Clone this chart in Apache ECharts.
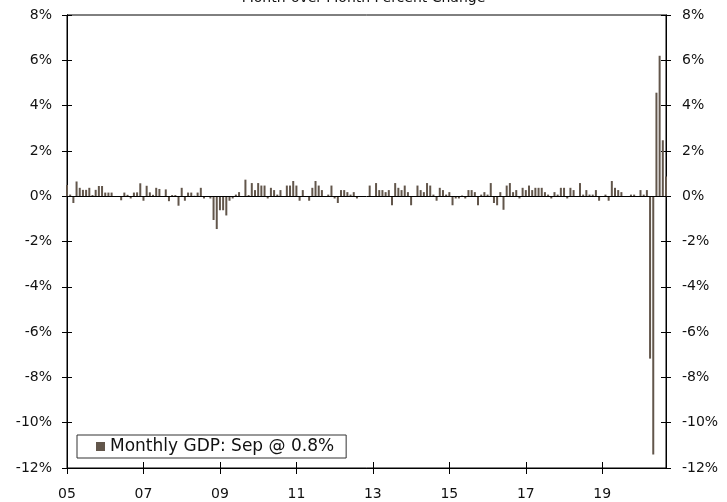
<!DOCTYPE html>
<html>
<head>
<meta charset="utf-8">
<script src="https://cdn.jsdelivr.net/npm/echarts@6/dist/echarts.min.js"></script>
<style>
html,body{margin:0;padding:0;background:#fff;}
#chart{width:727px;height:502px;}
</style>
</head>
<body>
<div id="chart"></div>
<script>
// ---- data ----
var startYear = 2005, startMonth = 1, monthCount = 189; // Jan 2005 .. Sep 2020
var months = [];
for (var k = 0; k < monthCount; k++) {
  var y = startYear + Math.floor((startMonth - 1 + k) / 12);
  var m = (startMonth - 1 + k) % 12 + 1;
  months.push(y + '-' + (m < 10 ? '0' + m : m));
}
var monthlyGdp = [
  0.5, 0.07, -0.3, 0.65, 0.37, 0.28, 0.28, 0.37, 0.05, 0.28, 0.45, 0.45,
  0.16, 0.16, 0.16, 0, 0, -0.18, 0.16, 0.06, -0.1, 0.16, 0.17, 0.57,
  -0.2, 0.46, 0.17, 0.06, 0.37, 0.32, 0, 0.3, -0.22, 0.05, 0.05, -0.42,
  0.37, -0.2, 0.16, 0.16, 0.02, 0.16, 0.37, -0.1, 0, -0.1, -1.05, -1.45,
  -0.62, -0.62, -0.85, -0.2, -0.1, 0.07, 0.18, 0, 0.73, 0.05, 0.58, 0.27,
  0.58, 0.47, 0.47, -0.1, 0.37, 0.27, 0.07, 0.27, 0, 0.47, 0.47, 0.67,
  0.47, -0.2, 0.27, 0, -0.2, 0.37, 0.67, 0.47, 0.27, 0, 0.07, 0.47,
  -0.1, -0.3, 0.27, 0.27, 0.18, 0.07, 0.18, -0.1, 0, 0, 0, 0.47,
  0, 0.58, 0.27, 0.27, 0.18, 0.27, -0.4, 0.58, 0.37, 0.27, 0.47, 0.18,
  -0.4, 0, 0.47, 0.27, 0.18, 0.58, 0.47, 0.07, -0.2, 0.37, 0.27, 0.07,
  0.18, -0.4, -0.1, -0.1, 0.03, -0.1, 0.27, 0.27, 0.18, -0.4, 0.07, 0.18,
  0.07, 0.58, -0.3, -0.4, 0.18, -0.6, 0.47, 0.58, 0.18, 0.27, -0.1, 0.37,
  0.27, 0.47, 0.27, 0.37, 0.37, 0.37, 0.18, 0.07, -0.1, 0.18, 0.07, 0.37,
  0.37, -0.1, 0.37, 0.27, 0, 0.58, 0.07, 0.27, 0.07, 0.07, 0.27, -0.2,
  0, 0.07, -0.2, 0.67, 0.37, 0.27, 0.18, 0, 0, 0.07, 0.07, 0,
  0.27, 0.07, 0.27, -7.17, -11.4, 4.57, 6.2, 2.47, 0.87
];
var xTickLabels = ['05', '07', '09', '11', '13', '15', '17', '19'];
var yTicks = { min: -12, max: 8, step: 2 };
var seriesName = 'Monthly GDP: Sep @ 0.8%';
var chartTitle = 'Month-over-Month Percent Change';

// ---- chart ----
var FONT = 'DejaVu Sans';
var AXIS_FONT = 14;
function isTick(index, value) {
  var v = months[index];
  return v.slice(5) === '01' && xTickLabels.indexOf(v.slice(2, 4)) >= 0;
}
function yAxisDef(pos, inside, labels) {
  return {
    type: 'value', position: pos, min: yTicks.min, max: yTicks.max, interval: yTicks.step,
    axisLine: { show: true, onZero: false, lineStyle: { color: '#000', width: 1 } },
    axisTick: { show: true, inside: inside, length: 5, lineStyle: { color: '#000' } },
    axisLabel: { show: labels, formatter: '{value}%', color: '#111', fontFamily: FONT, fontSize: AXIS_FONT,
      margin: pos === 'left' ? 15 : 16 },
    splitLine: { show: false }
  };
}
function xAxisDef(inside, labels) {
  return {
    type: 'category', data: months, boundaryGap: false, position: 'bottom',
    axisLine: { show: true, onZero: false, lineStyle: { color: '#000', width: 1 } },
    axisTick: { show: true, inside: inside, length: 6, interval: isTick, lineStyle: { color: '#000' } },
    axisLabel: { show: labels, interval: isTick, color: '#111', fontFamily: FONT, fontSize: AXIS_FONT, margin: 19,
      formatter: function (v) { return v.slice(2, 4); } },
    splitLine: { show: false }
  };
}
var chart = echarts.init(document.getElementById('chart'), null, { renderer: 'canvas' });
chart.setOption({
  animation: false,
  backgroundColor: '#fff',
  title: {
    text: chartTitle, left: 'center', top: -9, padding: 0,
    textStyle: { fontFamily: FONT, fontSize: 14, fontWeight: 'normal', color: '#111' }
  },
  legend: {
    data: [seriesName], left: 77, top: 435, orient: 'horizontal',
    icon: 'rect', itemWidth: 9, itemHeight: 9, itemGap: 5,
    padding: [3, 12, 3, 19],
    backgroundColor: '#fff', borderColor: '#333', borderWidth: 1,
    textStyle: { fontFamily: FONT, fontSize: 17, color: '#111' }
  },
  grid: { left: 67, right: 61, top: 15, bottom: 34, show: true, borderColor: '#000', borderWidth: 1, backgroundColor: 'transparent' },
  xAxis: [xAxisDef(false, true), xAxisDef(true, false)],
  yAxis: [yAxisDef('left', false, true), yAxisDef('left', true, false), yAxisDef('right', false, true), yAxisDef('right', true, false)],
  series: [{
    name: seriesName, type: 'bar', xAxisIndex: 0, yAxisIndex: 0,
    data: monthlyGdp, barWidth: 2,
    itemStyle: { color: '#62564b' },
    markLine: {
      silent: true, symbol: 'none', label: { show: false },
      lineStyle: { color: '#000', width: 1, type: 'solid' },
      data: [{ yAxis: 0 }]
    }
  }]
});
</script>
</body>
</html>
